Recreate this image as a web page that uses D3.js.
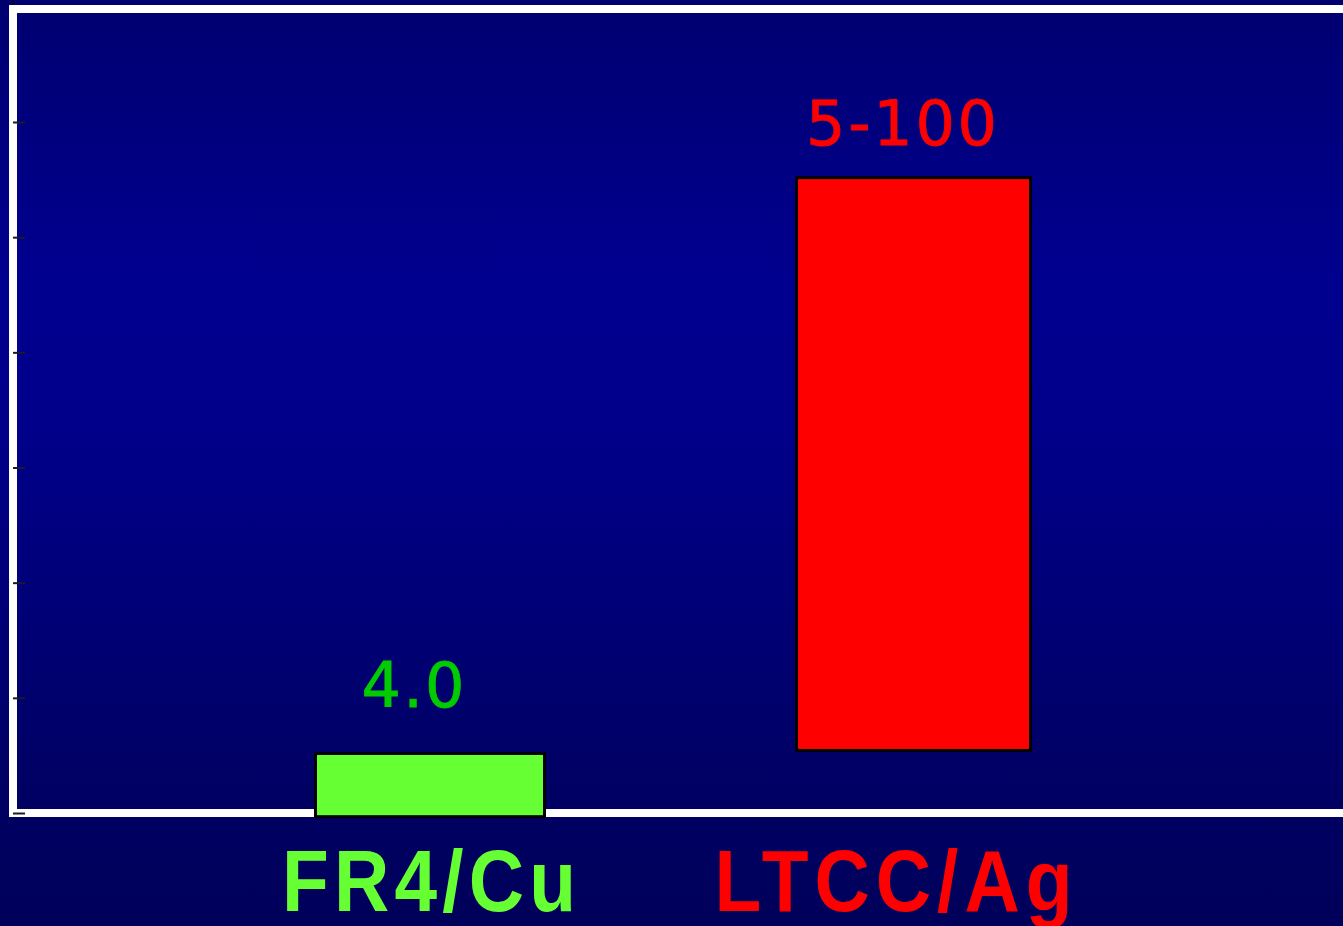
<!DOCTYPE html>
<html><head><meta charset="utf-8">
<script src="https://cdn.jsdelivr.net/npm/d3@7"></script>
<style>html,body{margin:0;padding:0;background:#00005c;overflow:hidden}</style>
</head><body>
<svg id="chart" width="1343" height="926"></svg>
<script>
const categories = ["FR4/Cu", "LTCC/Ag"];
const barLow = [-0.9, 10.6];
const barHigh = [10.6, 110.6];
const valueLabels = ["4.0", "5-100"];
const yTicks = [0, 20, 40, 60, 80, 100, 120];
const barColors = ["#66ff33", "#ff0000"];
const valueColors = ["#00cc00", "#ff0000"];
const catColors = ["#66ff33", "#ff0000"];

const W = 1343, H = 926;
const svg = d3.select("#chart");
const defs = svg.append("defs");
const grad = defs.append("linearGradient").attr("id","bg").attr("x1",0).attr("y1",0).attr("x2",0).attr("y2",1);
[[0,"#000070"],[0.3,"#00008f"],[0.45,"#00008b"],[0.86,"#000063"],[1,"#00005a"]].forEach(([o,c]) =>
  grad.append("stop").attr("offset", o).attr("stop-color", c));
svg.append("rect").attr("width",W).attr("height",H).attr("fill","url(#bg)");

const x = d3.scalePoint().domain(categories).range([430, 913.5]);
const y = d3.scaleLinear().domain([0, 120]).range([813, 122]);
const barW = [232, 237];

// frame
const frameLeft = 13, frameTop = 9;
svg.append("rect").attr("x", frameLeft).attr("y", frameTop)
  .attr("width", W + 20 - frameLeft).attr("height", y(0) - frameTop)
  .attr("fill", "none").attr("stroke", "#ffffff").attr("stroke-width", 8);

// ticks
const axis = d3.axisRight(y).tickValues(yTicks).tickSize(12).tickFormat("");
const ag = svg.append("g").attr("transform", `translate(${frameLeft},0)`).call(axis);
ag.select(".domain").remove();
ag.selectAll(".tick line").attr("stroke", "#1a1a2a").attr("stroke-width", 2);
svg.append("line").attr("x1", frameLeft).attr("x2", frameLeft).attr("y1", 0).attr("y2", 5)
  .attr("stroke", "#000033").attr("stroke-width", 2);

// bars
const data = categories.map((c, i) => ({c, lo: barLow[i], hi: barHigh[i], i}));
svg.selectAll("rect.bar").data(data).join("rect").attr("class","bar")
  .attr("x", d => x(d.c) - barW[d.i] / 2 + 1.5)
  .attr("width", d => barW[d.i] - 3)
  .attr("y", d => y(d.hi) + 1.5)
  .attr("height", d => y(d.lo) - y(d.hi) - 3)
  .attr("fill", d => barColors[d.i])
  .attr("stroke", "#000000").attr("stroke-width", 3);

// value labels
const valOffsets = [-17, -12];
const valGaps = [45, 31];
const valLens = [103, 191];
svg.selectAll("text.val").data(data).join("text").attr("class","val")
  .attr("x", d => x(d.c) + valOffsets[d.i])
  .attr("y", d => y(d.hi) - valGaps[d.i])
  .attr("text-anchor", "middle")
  .attr("font-family", "DejaVu Sans, sans-serif")
  .attr("font-size", 62)
  .attr("stroke", d => valueColors[d.i]).attr("stroke-width", 0.8)
  .attr("textLength", d => valLens[d.i]).attr("lengthAdjust", "spacing")
  .attr("fill", d => valueColors[d.i])
  .text((d) => valueLabels[d.i]);

// category labels (condensed by horizontal scaling)
const catOffsets = [-1, -20];
const catLens = [294, 358];
const sx = 0.87;
svg.selectAll("text.cat").data(data).join("text").attr("class","cat")
  .attr("transform", d => `translate(${x(d.c) + catOffsets[d.i]},911) scale(${sx},1)`)
  .attr("text-anchor", "middle")
  .attr("font-family", "Liberation Sans, Arial, sans-serif")
  .attr("font-weight", "bold")
  .attr("font-size", 88)
  .attr("textLength", d => catLens[d.i] / sx).attr("lengthAdjust", "spacing")
  .attr("fill", d => catColors[d.i])
  .text(d => d.c);
</script>
</body></html>
